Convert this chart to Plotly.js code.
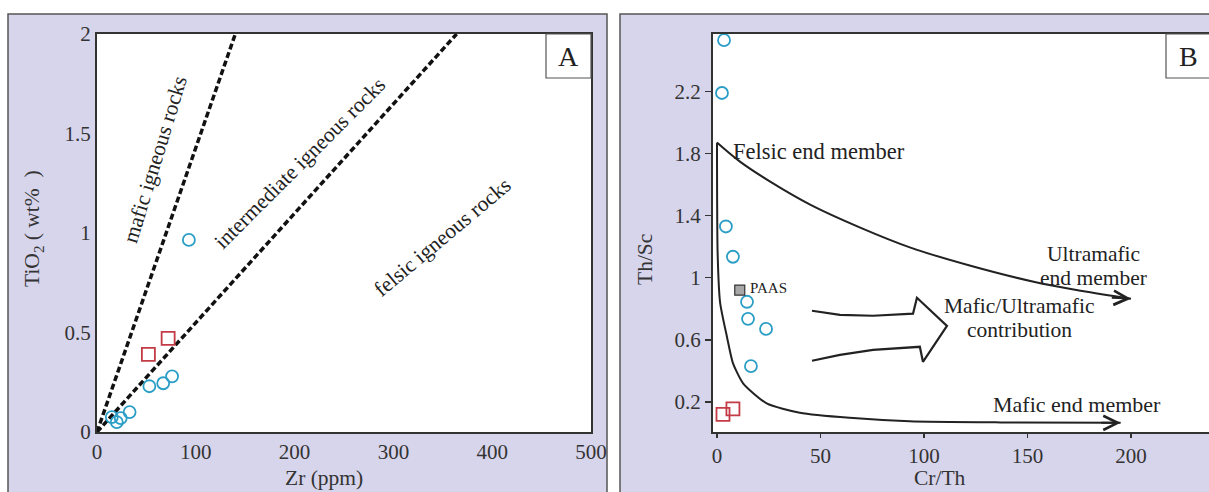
<!DOCTYPE html>
<html><head><meta charset="utf-8">
<script src="https://cdn.plot.ly/plotly-3.0.1.min.js"></script>
<style>html,body{margin:0;padding:0;background:#fff}#chart{width:1209px;height:492px}</style>
</head><body><div id="chart"></div>
<script>
// ---------- Panel A : TiO2 vs Zr ----------
const zrCircle   = [15, 20, 24, 33, 53, 67, 76, 93];
const tio2Circle = [0.075, 0.05, 0.07, 0.10, 0.23, 0.245, 0.28, 0.965];
const zrSquare   = [52, 72];
const tio2Square = [0.39, 0.47];
const maficBoundZr = [0, 140];
const maficBoundTi = [0, 2];
const felsicBoundZr = [0, 364];
const felsicBoundTi = [0, 2];
const aXTicks = [0, 100, 200, 300, 400, 500];
const aYTicks = [0, 0.5, 1, 1.5, 2];
const aYTickText = ['0', '0.5', '1', '1.5', '2'];

// ---------- Panel B : Th/Sc vs Cr/Th ----------
const crthCircle = [3.4, 2.4, 4.3, 7.7, 14.5, 15, 23.7, 16.4];
const thscCircle = [2.53, 2.19, 1.33, 1.135, 0.845, 0.735, 0.67, 0.43];
const crthSquare = [2.9, 7.7];
const thscSquare = [0.12, 0.155];
const paasCrTh = [11];
const paasThSc = [0.92];
const felsicCurveX = [0, 11.1, 25.7, 45, 69.2, 93.5, 122.5, 153, 175.8, 200];
const felsicCurveY = [1.871, 1.748, 1.619, 1.471, 1.323, 1.194, 1.077, 0.974, 0.916, 0.865];
const maficCurveX = [0, 0.3, 1.5, 4.8, 7.7, 12.6, 24, 40, 64, 93, 137, 195];
const maficCurveY = [1.87, 1.16, 0.84, 0.62, 0.45, 0.32, 0.19, 0.13, 0.097, 0.075, 0.068, 0.065];
const contribArrowX = [45.9, 59.4, 75.4, 94.7, 96.6, 111.1, 99.5, 98, 75.4, 59.4, 45.9];
const contribArrowY = [0.787, 0.761, 0.755, 0.768, 0.871, 0.69, 0.458, 0.555, 0.535, 0.503, 0.465];
const bXTicks = [0, 50, 100, 150, 200];
const bYTicks = [0, 0.2, 0.6, 1, 1.4, 1.8, 2.2];
const bYTickText = ['0', '0.2', '0.6', '1', '1.4', '1.8', '2.2'];

const W = 1209, H = 492;
const X = p => p / W;
const Y = p => 1 - p / H;
const FONT = '"Liberation Serif", "Times New Roman", serif';
const INK = '#222';
const CYAN = '#2b9ec6';
const RED = '#c33b45';

const traces = [
  {x: maficBoundZr, y: maficBoundTi, xaxis: 'x', yaxis: 'y', mode: 'lines',
   line: {color: '#111', width: 3.5, dash: '6px,3px'}, hoverinfo: 'skip'},
  {x: felsicBoundZr, y: felsicBoundTi, xaxis: 'x', yaxis: 'y', mode: 'lines',
   line: {color: '#111', width: 3.5, dash: '6px,3px'}, hoverinfo: 'skip'},
  {x: zrCircle, y: tio2Circle, xaxis: 'x', yaxis: 'y', mode: 'markers',
   marker: {symbol: 'circle-open', size: 12, color: CYAN, line: {width: 1.8, color: CYAN}}},
  {x: zrSquare, y: tio2Square, xaxis: 'x', yaxis: 'y', mode: 'markers',
   marker: {symbol: 'square-open', size: 13, color: RED, line: {width: 1.8, color: RED}}},

  {x: felsicCurveX, y: felsicCurveY, xaxis: 'x2', yaxis: 'y2', mode: 'lines',
   line: {color: INK, width: 2, shape: 'spline', smoothing: 1}, hoverinfo: 'skip'},
  {x: maficCurveX, y: maficCurveY, xaxis: 'x2', yaxis: 'y2', mode: 'lines',
   line: {color: INK, width: 2, shape: 'spline', smoothing: 0.6}, hoverinfo: 'skip'},
  {x: contribArrowX, y: contribArrowY, xaxis: 'x2', yaxis: 'y2', mode: 'lines',
   line: {color: INK, width: 2.2, shape: 'linear'}, hoverinfo: 'skip'},
  {x: crthCircle, y: thscCircle, xaxis: 'x2', yaxis: 'y2', mode: 'markers',
   marker: {symbol: 'circle-open', size: 12, color: CYAN, line: {width: 1.8, color: CYAN}}},
  {x: crthSquare, y: thscSquare, xaxis: 'x2', yaxis: 'y2', mode: 'markers',
   marker: {symbol: 'square-open', size: 13, color: RED, line: {width: 1.8, color: RED}}},
  {x: paasCrTh, y: paasThSc, xaxis: 'x2', yaxis: 'y2', mode: 'markers',
   marker: {symbol: 'square', size: 10, color: '#a8a8a8', line: {width: 1.2, color: '#333'}}}
];

const tickFont = {family: FONT, size: 21, color: '#333'};
const ann = (o) => Object.assign({showarrow: false, xanchor: 'center', yanchor: 'middle'}, o);
const layout = {
  width: W, height: H,
  margin: {l: 0, r: 0, t: 0, b: 0},
  paper_bgcolor: '#ffffff',
  plot_bgcolor: 'rgba(0,0,0,0)',
  showlegend: false,
  xaxis: {domain: [X(97), X(591)], range: [0, 500], tickvals: aXTicks, ticks: '',
          showgrid: false, zeroline: false, showline: true, mirror: true, linecolor: '#333', linewidth: 2,
          tickfont: tickFont, anchor: 'y'},
  yaxis: {domain: [Y(432), Y(34)], range: [0, 2], tickvals: aYTicks, ticktext: aYTickText, ticks: '',
          showgrid: false, zeroline: false, showline: true, mirror: true, linecolor: '#333', linewidth: 2,
          tickfont: tickFont, anchor: 'x'},
  xaxis2: {domain: [X(713), 1], range: [-1.93, 237.7], tickvals: bXTicks, ticks: 'outside', ticklen: 4,
           tickwidth: 1.5, tickcolor: '#333',
           showgrid: false, zeroline: false, showline: true, mirror: true, linecolor: '#333', linewidth: 2,
           tickfont: tickFont, anchor: 'y2'},
  yaxis2: {domain: [Y(432), Y(34)], range: [0.006, 2.57], tickvals: bYTicks, ticktext: bYTickText,
           ticks: 'outside', ticklen: 6, tickwidth: 1.5, tickcolor: '#333',
           showgrid: false, zeroline: false, showline: true, mirror: false, linecolor: '#333', linewidth: 2,
           tickfont: tickFont, anchor: 'x2'},
  shapes: [
    {type: 'rect', xref: 'paper', yref: 'paper', x0: X(8), x1: X(607), y0: Y(500), y1: Y(14),
     fillcolor: '#d7d5eb', line: {color: '#555', width: 1.5}, layer: 'below'},
    {type: 'rect', xref: 'paper', yref: 'paper', x0: X(620), x1: X(1215), y0: Y(500), y1: Y(14),
     fillcolor: '#d7d5eb', line: {color: '#555', width: 1.5}, layer: 'below'},
    {type: 'rect', xref: 'paper', yref: 'paper', x0: X(97), x1: X(591), y0: Y(432), y1: Y(34),
     fillcolor: '#ffffff', line: {width: 0}, layer: 'below'},
    {type: 'rect', xref: 'paper', yref: 'paper', x0: X(713), x1: X(1212), y0: Y(432), y1: Y(34),
     fillcolor: '#ffffff', line: {width: 0}, layer: 'below'},
    {type: 'rect', xref: 'paper', yref: 'paper', x0: X(546), x1: X(591), y0: Y(78), y1: Y(34),
     fillcolor: '#ffffff', line: {color: '#555', width: 1.2}},
    {type: 'rect', xref: 'paper', yref: 'paper', x0: X(1166), x1: X(1212), y0: Y(78), y1: Y(34),
     fillcolor: '#ffffff', line: {color: '#555', width: 1.2}}
  ],
  annotations: [
    // panel labels
    ann({xref: 'paper', yref: 'paper', x: X(568), y: Y(57), text: 'A', font: {family: FONT, size: 28, color: INK}}),
    ann({xref: 'paper', yref: 'paper', x: X(1188), y: Y(57), text: 'B', font: {family: FONT, size: 28, color: INK}}),
    // axis titles
    ann({xref: 'paper', yref: 'paper', x: X(33), y: Y(229), text: 'TiO<sub>2</sub> ( wt%  )', textangle: -90,
         font: {family: FONT, size: 21.5, color: '#333'}}),
    ann({xref: 'paper', yref: 'paper', x: X(324), y: Y(478), text: 'Zr (ppm)',
         font: {family: FONT, size: 21.5, color: '#333'}}),
    ann({xref: 'paper', yref: 'paper', x: X(645), y: Y(260), text: 'Th/Sc', textangle: -90,
         font: {family: FONT, size: 21.5, color: '#333'}}),
    ann({xref: 'paper', yref: 'paper', x: X(940), y: Y(478), text: 'Cr/Th',
         font: {family: FONT, size: 21.5, color: '#333'}}),
    // panel A field labels
    ann({xref: 'x', yref: 'y', x: 58.7, y: 1.367, text: 'mafic igneous rocks', textangle: -73,
         font: {family: FONT, size: 21.5, color: INK}}),
    ann({xref: 'x', yref: 'y', x: 205.5, y: 1.352, text: 'intermediate igneous rocks', textangle: -45,
         font: {family: FONT, size: 21.5, color: INK}}),
    ann({xref: 'x', yref: 'y', x: 350, y: 0.98, text: 'felsic igneous rocks', textangle: -40,
         font: {family: FONT, size: 21.5, color: INK}}),
    // panel B labels
    ann({xref: 'x2', yref: 'y2', x: 49.5, y: 1.81, text: 'Felsic end member', font: {family: FONT, size: 22.5, color: INK}}),
    ann({xref: 'x2', yref: 'y2', x: 182, y: 1.152, text: 'Ultramafic', font: {family: FONT, size: 21.5, color: INK}}),
    ann({xref: 'x2', yref: 'y2', x: 182, y: 0.995, text: 'end member', font: {family: FONT, size: 21.5, color: INK}}),
    ann({xref: 'x2', yref: 'y2', x: 146, y: 0.82, text: 'Mafic/Ultramafic', font: {family: FONT, size: 21.5, color: INK}}),
    ann({xref: 'x2', yref: 'y2', x: 146, y: 0.665, text: 'contribution', font: {family: FONT, size: 21.5, color: INK}}),
    ann({xref: 'x2', yref: 'y2', x: 174, y: 0.18, text: 'Mafic end member', font: {family: FONT, size: 22, color: INK}}),
    ann({xref: 'x2', yref: 'y2', x: 14.8, y: 0.935, text: 'PAAS', xanchor: 'left', font: {family: FONT, size: 15, color: INK}}),
    // arrowheads at curve ends
    {xref: 'x2', yref: 'y2', axref: 'x2', ayref: 'y2', x: 200, y: 0.865, ax: 190, ay: 0.872, text: '',
     showarrow: true, arrowhead: 5, arrowsize: 1.4, arrowwidth: 2, arrowcolor: INK},
    {xref: 'x2', yref: 'y2', axref: 'x2', ayref: 'y2', x: 195, y: 0.065, ax: 185, ay: 0.065, text: '',
     showarrow: true, arrowhead: 5, arrowsize: 1.4, arrowwidth: 2, arrowcolor: INK}
  ]
};

Plotly.newPlot('chart', traces, layout, {displayModeBar: false, staticPlot: true});
</script>
</body></html>
